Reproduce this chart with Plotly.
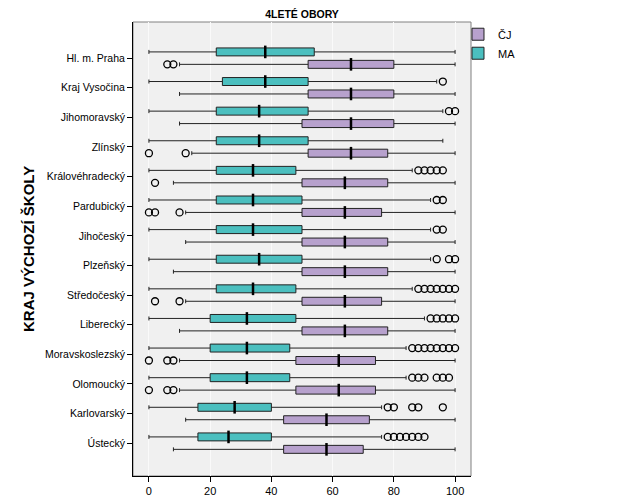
import plotly.graph_objects as go

regions = ["Hl. m. Praha", "Kraj Vysočina", "Jihomoravský", "Zlínský", "Královéhradecký",
           "Pardubický", "Jihočeský", "Plzeňský", "Středočeský", "Liberecký",
           "Moravskoslezský", "Olomoucký", "Karlovarský", "Ústecký"]

# MA (mathematics)
ma_lower = [0, 0, 0, 0, 0, 0, 0, 0, 0, 0, 0, 0, 0, 0]
ma_q1 = [22, 24, 22, 22, 22, 22, 22, 22, 22, 20, 20, 20, 16, 16]
ma_median = [38, 38, 36, 36, 34, 34, 34, 36, 34, 32, 32, 32, 28, 26]
ma_q3 = [54, 52, 52, 52, 48, 50, 50, 50, 48, 48, 46, 46, 40, 40]
ma_upper = [100, 94, 96, 96, 86, 92, 92, 92, 86, 90, 84, 84, 76, 76]
ma_outliers = [[], [96], [98, 100], [], [88, 90, 92, 94, 96], [94, 96], [94, 96],
               [94, 98, 100], [88, 90, 92, 94, 96, 98, 100], [92, 94, 96, 98, 100],
               [86, 88, 90, 92, 94, 96, 98, 100], [86, 88, 90, 94, 96, 98],
               [78, 80, 86, 88, 96], [78, 80, 82, 84, 86, 88, 90]]

# ČJ (Czech language)
cj_lower = [10, 10, 10, 14, 8, 12, 12, 8, 12, 10, 10, 10, 12, 8]
cj_q1 = [52, 52, 50, 52, 50, 50, 50, 50, 50, 50, 48, 48, 44, 44]
cj_median = [66, 66, 66, 66, 64, 64, 64, 64, 64, 64, 62, 62, 58, 58]
cj_q3 = [80, 80, 80, 78, 78, 76, 78, 78, 76, 78, 74, 74, 72, 70]
cj_upper = [100, 100, 100, 100, 100, 100, 100, 100, 100, 100, 100, 100, 100, 100]
cj_outliers = [[6, 8], [], [], [0, 12], [2], [0, 2, 10], [], [], [2, 10], [],
               [0, 6, 8], [0, 6, 8], [], []]

x_ticks = [0, 20, 40, 60, 80, 100]

MA_COLOR = "#4BBFBF"
CJ_COLOR = "#B7A1CD"
FONT = "Liberation Sans, Arial, sans-serif"

fig = go.Figure()

series = [
    ("MA", "MA", MA_COLOR, ma_lower, ma_q1, ma_median, ma_q3, ma_upper, ma_outliers),
    ("ČJ", "CJ", CJ_COLOR, cj_lower, cj_q1, cj_median, cj_q3, cj_upper, cj_outliers),
]

for name, grp, color, lo, q1, med, q3, up, outs in series:
    fig.add_trace(go.Box(
        name=name, orientation="h", y=regions,
        q1=q1, median=med, q3=q3, lowerfence=lo, upperfence=up,
        fillcolor=color, line=dict(color="#222222", width=1),
        whiskerwidth=0.5, boxpoints=False, offsetgroup=grp,
        hoverinfo="skip",
    ))

for name, grp, color, lo, q1, med, q3, up, outs in series:
    ox, oy = [], []
    for reg, vals in zip(regions, outs):
        for v in vals:
            ox.append(v)
            oy.append(reg)
    fig.add_trace(go.Scatter(
        x=ox, y=oy, mode="markers", orientation="h", offsetgroup=grp,
        marker=dict(symbol="circle-open", size=7, color="black", line=dict(width=1.3)),
        showlegend=False, hoverinfo="skip",
    ))
    fig.add_trace(go.Scatter(
        x=med, y=regions, mode="markers", orientation="h", offsetgroup=grp,
        marker=dict(symbol="line-ns", size=9, color="black",
                    line=dict(width=2.5, color="black")),
        showlegend=False, hoverinfo="skip",
    ))

fig.update_layout(
    width=621, height=496,
    margin=dict(l=125, r=158, t=14, b=28, autoexpand=False),
    paper_bgcolor="white", plot_bgcolor="#F0F0F0",
    boxmode="group", boxgap=0.16, boxgroupgap=0.36,
    scattermode="group", scattergap=0.16,
    font=dict(family=FONT, size=10.5, color="black"),
    title=dict(text="<b>4LETÉ OBORY</b>", x=0.5, xref="paper", xanchor="center",
               y=1 - 6 / 496, yanchor="middle", font=dict(size=10.5, color="black")),
    legend=dict(x=0.9615, y=1.005, xanchor="left", yanchor="top",
                traceorder="reversed", font=dict(size=11),
                bgcolor="rgba(0,0,0,0)", tracegroupgap=0),
    xaxis=dict(range=[-5.2, 105.2], tickvals=x_ticks, ticks="outside", ticklen=5,
               tickcolor="black", showline=True, linecolor="black", linewidth=1,
               showgrid=True, gridcolor="#FAFAFA", zeroline=False,
               tickfont=dict(size=11), automargin=False),
    yaxis=dict(type="category", categoryorder="array", categoryarray=regions,
               range=[14.11, -1.22], ticks="outside", ticklen=5, tickcolor="black",
               showline=True, linecolor="black", linewidth=1, showgrid=False,
               tickfont=dict(size=10.5), automargin=False),
    annotations=[dict(text="<b>KRAJ VÝCHOZÍ ŠKOLY</b>", xref="paper", yref="paper",
                      x=-0.3107, y=0.5, xanchor="center", yanchor="middle",
                      textangle=-90, showarrow=False, font=dict(size=15))],
    shapes=[dict(type="rect", xref="paper", yref="paper", x0=0, x1=1, y0=0, y1=1,
                 line=dict(color="#808080", width=1), layer="below")],
)

fig.write_html("out.html")
